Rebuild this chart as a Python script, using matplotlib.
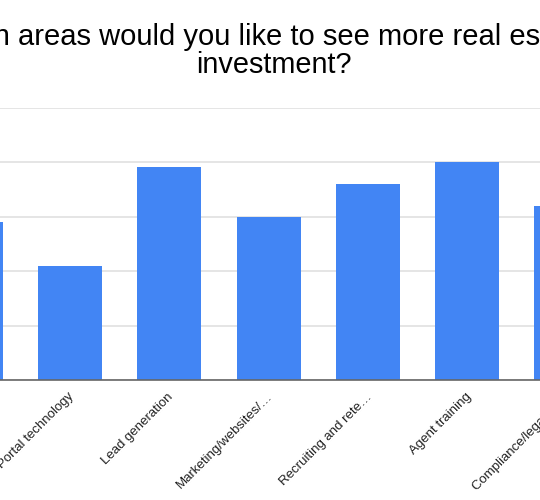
import numpy as np
import matplotlib.pyplot as plt
from matplotlib.transforms import ScaledTranslation

# Survey answers (the first category is cropped out of view in the original)
categories = ["", "Portal technology", "Lead generation", "Marketing/websites/…",
              "Recruiting and rete…", "Agent training", "Compliance/legal su…"]
values = [29, 21, 39, 30, 36, 40, 32]
yticks = [0, 10, 20, 30, 40, 50]
title_lines = ["Which areas would you like to see more real estate", "investment?"]

plt.rcParams['font.family'] = ['Liberation Sans', 'DejaVu Sans']

fig = plt.figure(figsize=(5.4, 5.0), dpi=100)
ax = fig.add_axes([0.0, 0.24, 1.0, 0.545])

x = np.arange(len(categories))
ax.bar(x, values, width=0.645, color='#4285F4', zorder=2)

ax.set_yticks(yticks)
ax.yaxis.grid(True, color='#e0e0e0', linewidth=1.2, zorder=0)
ax.tick_params(axis='y', left=False, labelleft=False)
ax.set_xticks([])
# the reference is a crop of a wider chart, so only part of the range shows
ax.set_xlim(0.295, 5.733)
ax.set_ylim(0, 50)

# category labels drawn by hand so the ones past the edge still show partly
lab_tr = ax.get_xaxis_transform() + ScaledTranslation(0.02, -0.15, fig.dpi_scale_trans)
for xi, lab in zip(x, categories):
    ax.text(xi, 0, lab, transform=lab_tr, rotation=45, ha='right', va='center',
            rotation_mode='anchor', fontsize=9.5, color='#222222', clip_on=False)

for s in ['top', 'left', 'right']:
    ax.spines[s].set_visible(False)
ax.spines['bottom'].set_color('#666666')
ax.spines['bottom'].set_linewidth(1.2)
ax.spines['bottom'].set_zorder(3)

# the two title lines sit a little off each other in the cropped original
fig.text(259 / 540, 1 - 45 / 500, title_lines[0], ha='center', va='baseline',
         fontsize=21)
fig.text(274 / 540, 1 - 73 / 500, title_lines[1], ha='center', va='baseline',
         fontsize=20.8)

fig.savefig("out.png", dpi=100)
